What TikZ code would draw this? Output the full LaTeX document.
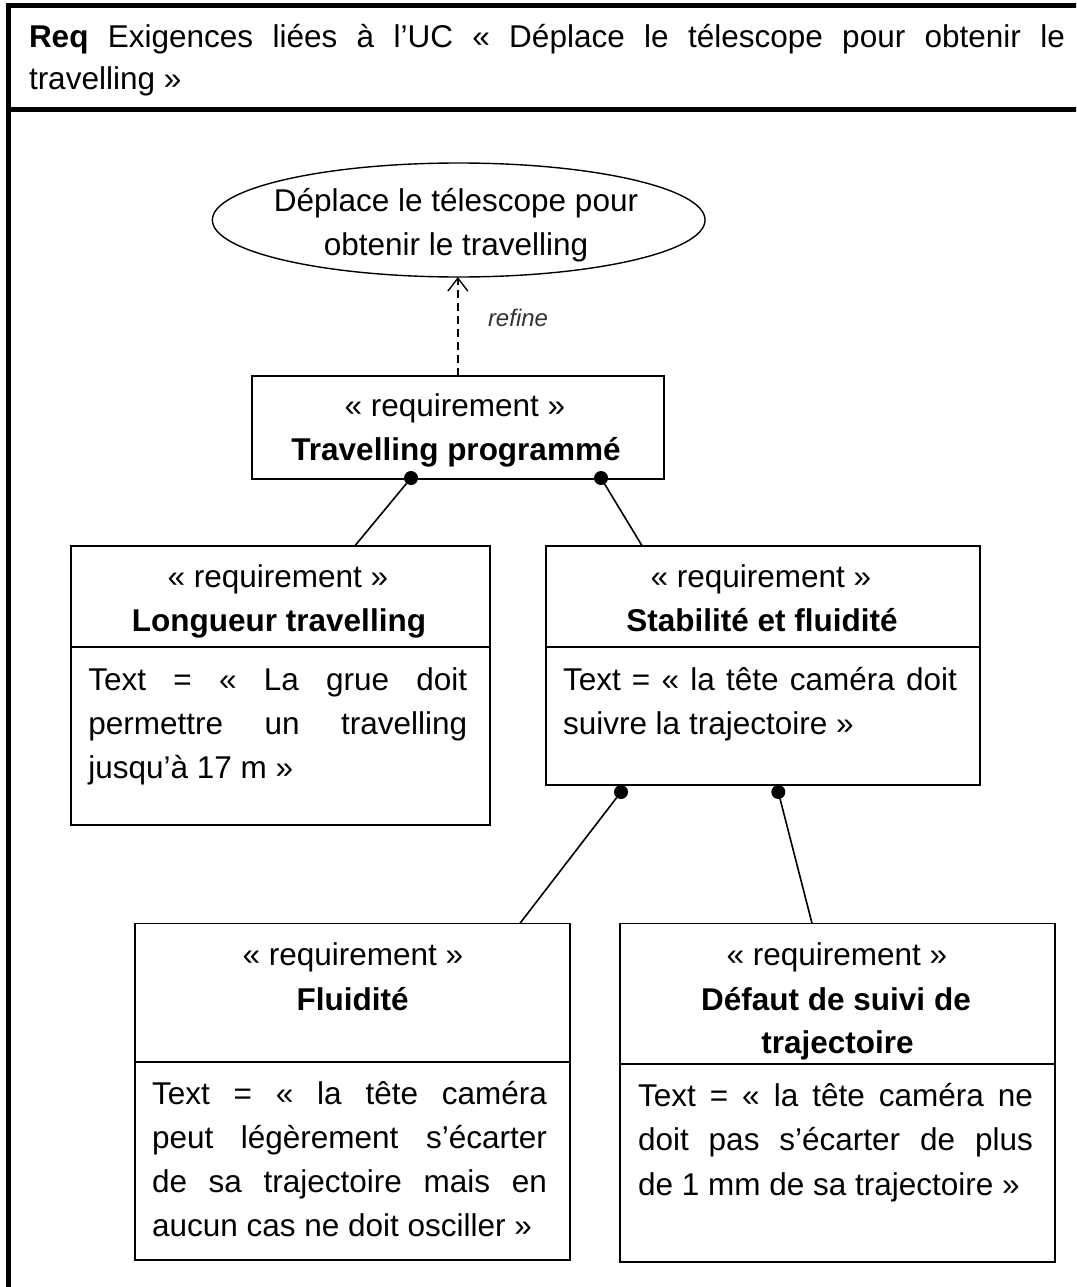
\documentclass[tikz,border=0pt]{standalone}
\usepackage{fontspec}
\setmainfont{Liberation Sans}
\usetikzlibrary{shapes.geometric,arrows.meta}
\newcommand{\JLine}[2]{\makebox[#1][s]{#2}}
\begin{document}
\begin{tikzpicture}[x=1pt,y=-1pt,
  every node/.style={font=\fontsize{31.5}{44}\selectfont, inner sep=0pt, outer sep=0pt},
  reqbox/.style={draw, line width=1.6pt, rectangle, anchor=north west},
  txtl/.style={anchor=base west},
  txtc/.style={anchor=base},
  dotn/.style={circle, fill, minimum size=14pt},
  conn/.style={line width=1.6pt},
  framestyle/.style={line width=5pt}]
\clip (0,0) rectangle (1076,1287);
\fill[white] (0,0) rectangle (1076,1287);
% frame
\draw[framestyle] (1090,6) -- (8.5,6) -- (8.5,1300);
\draw[framestyle] (8.5,109.5) -- (1090,109.5);
\node[txtl] (h1) at (29,47.7) {\JLine{1036pt}{\textbf{Req} Exigences liées à l’UC « Déplace le télescope pour obtenir le}};
\node[txtl] (h2) at (29,89.3) {travelling »};
% use case
\node[ellipse, draw, line width=1.4pt, minimum width=492.7pt, minimum height=114pt] (uc) at (458.7,220) {};
\node[txtc] (uc1) at (456,211.7) {Déplace le télescope pour};
\node[txtc] (uc2) at (456,255.7) {obtenir le travelling};
% Travelling programme
\node[reqbox, minimum width=412.3pt, minimum height=103pt] (tp) at (251.7,375.7) {};
\node[txtc] (tp1) at (455,416) {« requirement »};
\node[txtc] (tp2) at (456,460.7) {\textbf{Travelling programmé}};
\draw[line width=1.4pt, dash pattern=on 8pt off 5pt, -{Straight Barb[length=13pt,width=20pt,line width=1.4pt]}] (tp.north) -- (tp.north |- uc.south);
\node[anchor=base west, font=\fontsize{24}{28}\itshape\selectfont, text=black!80] (rf) at (488,326.7) {refine};
% Longueur travelling
\node[reqbox, minimum width=419pt, minimum height=279.3pt] (lt) at (71,545.7) {};
\draw[conn] (71,646.7) -- (490,646.7);
\node[txtc] (lt1) at (278,587.3) {« requirement »};
\node[txtc] (lt2) at (279,631.7) {\textbf{Longueur travelling}};
\node[txtl] (lt3) at (88.3,690) {\JLine{379pt}{Text = « La grue doit}};
\node[txtl] (lt4) at (88.3,734.3) {\JLine{379pt}{permettre un travelling}};
\node[txtl] (lt5) at (88.3,778.3) {jusqu’à 17 m »};
% Stabilite et fluidite
\node[reqbox, minimum width=434pt, minimum height=239.3pt] (sf) at (546,545.7) {};
\draw[conn] (546,646.7) -- (980,646.7);
\node[txtc] (sf1) at (761,587.3) {« requirement »};
\node[txtc] (sf2) at (762,631.7) {\textbf{Stabilité et fluidité}};
\node[txtl] (sf3) at (563,690) {\JLine{394pt}{Text = « la tête caméra doit}};
\node[txtl] (sf4) at (563,734.3) {suivre la trajectoire »};
% Fluidite
\node[reqbox, minimum width=435pt, minimum height=336.7pt] (fl) at (135,923.3) {};
\draw[conn] (135,1061.7) -- (570,1061.7);
\node[txtc] (fl1) at (353,965) {« requirement »};
\node[txtc] (fl2) at (352.5,1010) {\textbf{Fluidité}};
\node[txtl] (fl3) at (152,1104) {\JLine{395pt}{Text = « la tête caméra}};
\node[txtl] (fl4) at (152,1148.3) {\JLine{395pt}{peut légèrement s’écarter}};
\node[txtl] (fl5) at (152,1192.3) {\JLine{395pt}{de sa trajectoire mais en}};
\node[txtl] (fl6) at (152,1236) {aucun cas ne doit osciller »};
% Defaut de suivi
\node[reqbox, minimum width=435pt, minimum height=338.4pt] (df) at (620,923.3) {};
\draw[conn] (620,1064) -- (1055,1064);
\node[txtc] (df1) at (837,965) {« requirement »};
\node[txtc] (df2) at (836,1010) {\textbf{Défaut de suivi de}};
\node[txtc] (df3) at (837.5,1053.3) {\textbf{trajectoire}};
\node[txtl] (df4) at (638,1106) {\JLine{395pt}{Text = « la tête caméra ne}};
\node[txtl] (df5) at (638,1150) {\JLine{395pt}{doit pas s’écarter de plus}};
\node[txtl] (df6) at (638,1195) {de 1 mm de sa trajectoire »};
% containment connectors
\node[dotn] (d1) at (411,478) {};
\node[dotn] (d2) at (601,478) {};
\node[dotn] (d3) at (621,792) {};
\node[dotn] (d4) at (778.3,792) {};
\coordinate (lta) at (355,545.7);
\coordinate (sfa) at (642,545.7);
\coordinate (fla) at (520,923.3);
\coordinate (dfa) at (812,923.3);
\draw[conn] (d1) -- (lta);
\draw[conn] (d2) -- (sfa);
\draw[conn] (d3) -- (fla);
\draw[conn] (d4) -- (dfa);
\end{tikzpicture}
\end{document}
